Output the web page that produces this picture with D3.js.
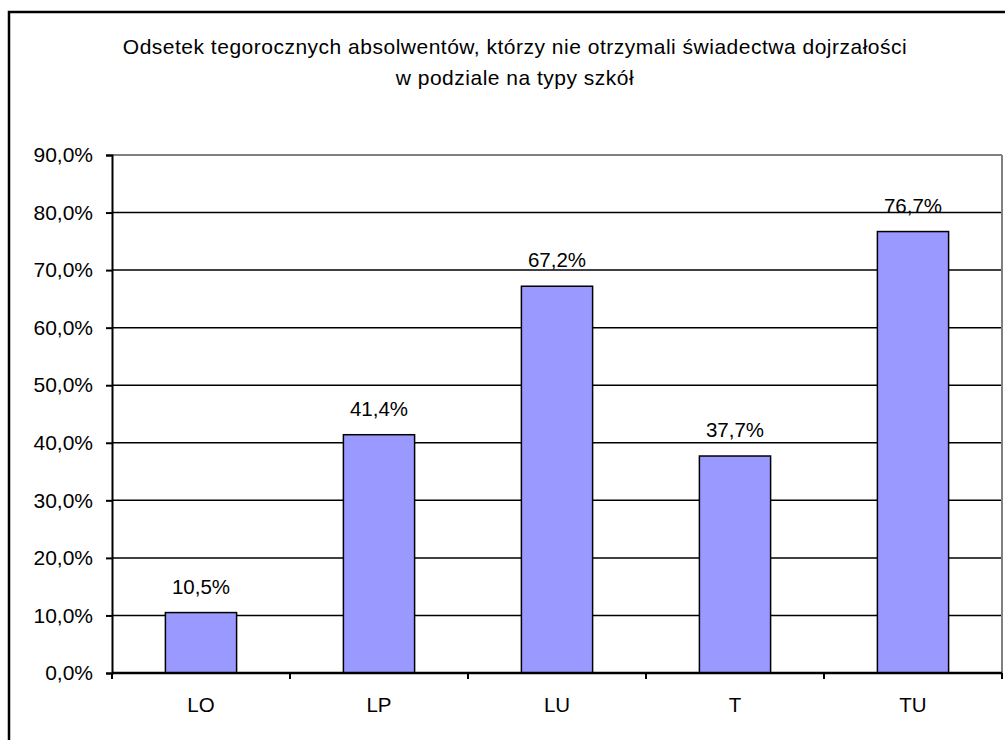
<!DOCTYPE html>
<html>
<head>
<meta charset="utf-8">
<script src="https://cdn.jsdelivr.net/npm/d3@7"></script>
<style>
  body { margin: 0; background: #fff; }
  svg { display: block; font-family: Arial, "Liberation Sans", sans-serif; }
</style>
</head>
<body>
<svg id="chart" width="1005" height="740"></svg>
<script>
// Chart data
const categories = ['LO', 'LP', 'LU', 'T', 'TU'];
const values = [10.5, 41.4, 67.2, 37.7, 76.7];
const yTicks = [0, 10, 20, 30, 40, 50, 60, 70, 80, 90];
const titleLines = [
  'Odsetek tegorocznych absolwentów, którzy nie otrzymali świadectwa dojrzałości',
  'w podziale na typy szkół'
];

const svg = d3.select('#chart');
const plot = { left: 112, right: 1002, top: 155, bottom: 673 };
const fmt = v => v.toFixed(1).replace('.', ',') + '%';

// Outer frame runs off the right and bottom of the picture
svg.append('rect')
  .attr('x', 9).attr('y', 12)
  .attr('width', 1010).attr('height', 760)
  .attr('fill', 'none')
  .attr('stroke', '#000')
  .attr('stroke-width', 2.5);

// Title
svg.append('g').selectAll('text')
  .data(titleLines)
  .join('text')
  .attr('x', 515)
  .attr('y', (d, i) => 54 + i * 31)
  .attr('text-anchor', 'middle')
  .attr('font-size', 21)
  .attr('letter-spacing', 0.5)
  .text(d => d);

const x = d3.scaleBand()
  .domain(categories)
  .range([plot.left, plot.right])
  .paddingInner(0.6)
  .paddingOuter(0.3);
const xCat = d3.scaleBand()
  .domain(categories)
  .range([plot.left, plot.right]);
const y = d3.scaleLinear()
  .domain([0, 90])
  .range([plot.bottom, plot.top]);

// Gridlines
svg.append('g').selectAll('line')
  .data(yTicks.filter(t => t > 0))
  .join('line')
  .attr('x1', plot.left).attr('x2', plot.right)
  .attr('y1', d => y(d)).attr('y2', d => y(d))
  .attr('stroke', d => d === 90 ? '#808080' : '#000')
  .attr('stroke-width', d => d === 90 ? 2 : 1.5);

// Right border of the plot area
svg.append('line')
  .attr('x1', plot.right).attr('x2', plot.right)
  .attr('y1', plot.top).attr('y2', plot.bottom)
  .attr('stroke', '#808080')
  .attr('stroke-width', 2);

// Bars
svg.append('g').selectAll('rect')
  .data(values)
  .join('rect')
  .attr('x', (d, i) => x(categories[i]))
  .attr('width', x.bandwidth())
  .attr('y', d => y(d))
  .attr('height', d => y(0) - y(d))
  .attr('fill', '#9999ff')
  .attr('stroke', '#000')
  .attr('stroke-width', 1.5);

// Value labels
svg.append('g').selectAll('text')
  .data(values)
  .join('text')
  .attr('x', (d, i) => x(categories[i]) + x.bandwidth() / 2)
  .attr('y', d => y(d) - 19)
  .attr('text-anchor', 'middle')
  .attr('font-size', 20.5)
  .text(fmt);

// Y axis
const yAxis = svg.append('g')
  .attr('transform', `translate(${plot.left},0)`)
  .call(d3.axisLeft(y).tickValues(yTicks).tickSize(6).tickPadding(13).tickFormat(fmt));
yAxis.select('.domain').attr('stroke-width', 2);
yAxis.selectAll('.tick line').attr('stroke-width', 2);
yAxis.selectAll('.tick text')
  .attr('font-size', 21)
  .attr('font-family', 'Arial, "Liberation Sans", sans-serif')
  .attr('fill', '#000');

// X axis: ticks sit between categories
const xAxis = svg.append('g')
  .attr('transform', `translate(0,${plot.bottom})`);
xAxis.append('line')
  .attr('x1', plot.left).attr('x2', plot.right)
  .attr('stroke', '#000').attr('stroke-width', 2.5);
xAxis.selectAll('line.tick')
  .data(categories.map(c => xCat(c)).concat([plot.right]))
  .join('line')
  .attr('class', 'tick')
  .attr('x1', d => d).attr('x2', d => d)
  .attr('y1', 0).attr('y2', 6)
  .attr('stroke', '#000').attr('stroke-width', 2);
xAxis.selectAll('text')
  .data(categories)
  .join('text')
  .attr('x', d => xCat(d) + xCat.bandwidth() / 2)
  .attr('y', 39)
  .attr('text-anchor', 'middle')
  .attr('font-size', 20.5)
  .text(d => d);
</script>
</body>
</html>
